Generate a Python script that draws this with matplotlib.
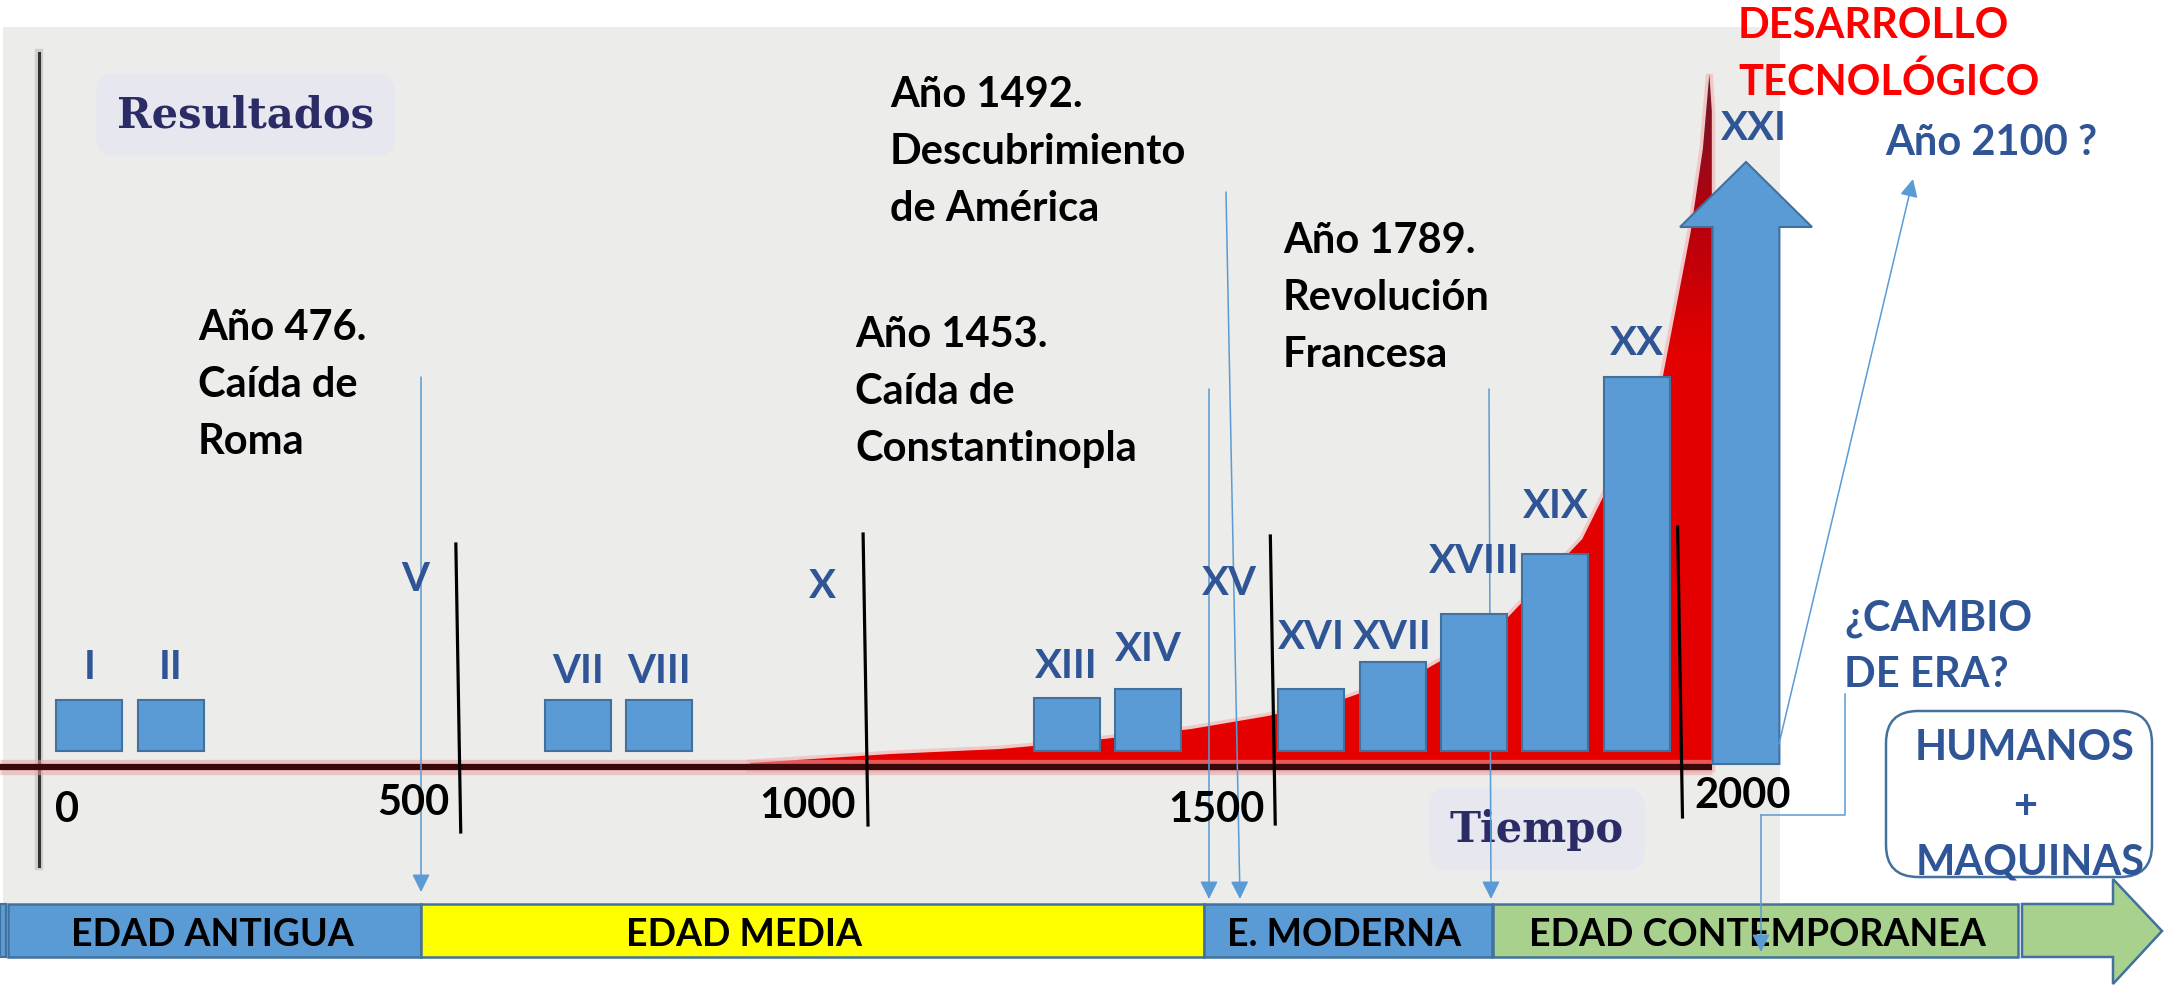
import matplotlib
matplotlib.use('Agg')
import matplotlib.pyplot as plt
import numpy as np
from matplotlib.patches import Rectangle, Polygon, FancyBboxPatch
from matplotlib.transforms import Affine2D, blended_transform_factory
from matplotlib.colors import LinearSegmentedColormap

W, H = 2164, 987

# ---- data ----
bar_labels = ['I', 'II', 'VII', 'VIII', 'XIII', 'XIV', 'XVI', 'XVII', 'XVIII', 'XIX', 'XX']
bar_centuries = [1, 2, 7, 8, 13, 14, 16, 17, 18, 19, 20]
bar_values = [51, 51, 51, 51, 53, 62, 62, 89, 137, 197, 374]

extra_labels = ['V', 'X', 'XV']
extra_centuries = [5, 10, 15]

future_label = 'XXI'
future_century = 21
future_value = 589

curve_years = [861, 1034, 1168, 1263, 1403, 1497, 1590, 1685, 1778, 1883, 1982, 2016, 2031, 2039, 2042, 2042]
curve_values = [-12, -3, 2, 9, 22, 35, 52, 79, 122, 212, 375, 519, 602, 677, 640, -18]

divider_years = [500, 1000, 1500, 2000]
tick_labels = ['0', '500', '1000', '1500', '2000']
eras = ['EDAD ANTIGUA', 'EDAD MEDIA', 'E. MODERNA', 'EDAD CONTEMPORANEA']
events = ['Año 476.\nCaída de\nRoma',
          'Año 1453.\nCaída de\nConstantinopla',
          'Año 1492.\nDescubrimiento\nde América',
          'Año 1789.\nRevolución\nFrancesa']

# ---- layout (pixel positions of the decorations) ----
label_base = {'I': 679, 'II': 679, 'V': 591, 'VII': 683, 'VIII': 683, 'X': 598,
              'XIII': 678, 'XIV': 661, 'XV': 595, 'XVI': 649, 'XVII': 649,
              'XVIII': 573, 'XIX': 518, 'XX': 355, 'XXI': 140}
event_pos = [(198, 340), (855, 347), (890, 107), (1283, 253)]
event_step = 57
tick_pos = [(67, 822), (413, 815), (808, 818), (1216, 822), (1743, 808)]
divider_top = [545, 535, 537, 528]
divider_bot = [833, 826, 825, 818]
era_spans = [(8, 421), (421, 1204), (1204, 1492), (1493, 2018)]
era_colors = ['#5B9BD5', '#FFFF00', '#5B9BD5', '#A9D18E']
era_text_x = [212, 744, 1344, 1757]
band_top, band_bot = 905, 958

BLUE = '#5B9BD5'
EDGE = '#41719C'
DARKBLUE = '#2F5597'
FONT = 'Lato'

fig = plt.figure(figsize=(W / 100, H / 100), dpi=100)
fig.patch.set_facecolor('white')
ax = fig.add_axes([0, 0, 1, 1])
ax.axis('off')

# year -> pixel: px = 48.6 + 0.8145 * year ; value -> pixel: py = 752 - value
x0 = (0 - 48.6) / 0.8145
x1 = (W - 48.6) / 0.8145
ax.set_xlim(x0, x1)
ax.set_ylim(752 - H, 752)

PX = Affine2D().scale(1 / W, -1 / H).translate(0, 1) + fig.transFigure
XPY = blended_transform_factory(ax.transData, PX)

# grey chart background
ax.add_patch(Rectangle((3, 28), 1777, 876, transform=PX, fc='#ECECEA', ec='none', zorder=0))

# vertical axis
ax.plot([39, 39], [54, 867], transform=PX, color='#9a9a9a', lw=6, alpha=0.35, zorder=1)
ax.plot([39, 39], [54, 867], transform=PX, color='#333333', lw=2.2, zorder=1)

# axis titles of the background picture
glow = dict(boxstyle='round,pad=0.5', fc='#E6E6F2', ec='none', alpha=0.7)
ax.text(117, 128, 'Resultados', transform=PX, family='DejaVu Serif', weight='bold',
        fontsize=30, color='#2B2B66', va='baseline', ha='left', bbox=glow, zorder=1)
ax.text(1450, 842, 'Tiempo', transform=PX, family='DejaVu Serif', weight='bold',
        fontsize=30, color='#2B2B66', va='baseline', ha='left', bbox=glow, zorder=1)

# red growth curve with gradient
verts = [(curve_years[0], curve_values[-1])] + list(zip(curve_years, curve_values))
poly = Polygon(verts, closed=True, fc='none', ec='#F2B0B0', lw=5, alpha=0.6, zorder=2)
ax.add_patch(poly)
cmap = LinearSegmentedColormap.from_list('red', [(0, '#E60000'), (0.6, '#E20000'),
                                                 (0.8, '#B3000E'), (1, '#6E1A2A')])
grad = np.linspace(0, 1, 256).reshape(-1, 1)
im = ax.imshow(grad, cmap=cmap, origin='lower', aspect='auto',
               extent=[min(curve_years), max(curve_years), -20, max(curve_values)], zorder=2.1)
clip = Polygon(verts, closed=True, transform=ax.transData)
im.set_clip_path(clip)
ax.set_xlim(x0, x1)
ax.set_ylim(752 - H, 752)

# horizontal axis (dark with pink halo)
ax.plot([x0, max(curve_years)], [-16, -16], color='#E9A3A3', lw=11, alpha=0.55,
        solid_capstyle='butt', zorder=2.4)
ax.plot([x0, max(curve_years)], [-16, -16], color='#3A0808', lw=4.5,
        solid_capstyle='butt', zorder=2.5)

# thin blue arrows from events to the era band
arr = dict(arrowstyle='-|>,head_length=0.6,head_width=0.3', color=BLUE, lw=1.1,
           mutation_scale=18, shrinkA=0, shrinkB=0)
for (xa, ya), (xb, yb) in [((421, 378), (421, 893)), ((1209, 390), (1209, 900)),
                           ((1226, 193), (1240, 900)), ((1489, 390), (1491, 900))]:
    ax.annotate('', xy=(xb, yb), xytext=(xa, ya), xycoords=PX, textcoords=PX,
                arrowprops=arr, zorder=3)

# century bars
bar_x = [(c - 0.5) * 100 for c in bar_centuries]
ax.bar(bar_x, bar_values, width=81, bottom=0, color=BLUE, edgecolor=EDGE,
       linewidth=1.5, zorder=4)

# XXI century arrow
arrow_shift = 34
cx = (future_century - 0.5) * 100 + arrow_shift
shaft, head, head_len, foot = 41, 81, 65, -13
ax.add_patch(Polygon([(cx - shaft, foot), (cx - shaft, future_value - head_len),
                      (cx - head, future_value - head_len), (cx, future_value),
                      (cx + head, future_value - head_len), (cx + shaft, future_value - head_len),
                      (cx + shaft, foot)], closed=True, fc=BLUE, ec=EDGE, lw=1.5, zorder=4))

# black era dividers
for yr, t, b in zip(divider_years, divider_top, divider_bot):
    ax.plot([yr, yr + 6], [t, b], transform=XPY, color='black', lw=2.3, zorder=5)

# roman numerals
for lab, c in list(zip(bar_labels, bar_centuries)) + list(zip(extra_labels, extra_centuries)):
    ax.text((c - 0.5) * 100, label_base[lab], lab, transform=XPY, ha='center', va='baseline',
            family=FONT, weight='bold', fontsize=29, color=DARKBLUE, zorder=6)
ax.text(cx + 10, label_base[future_label], future_label, transform=XPY, ha='center',
        va='baseline', family=FONT, weight='bold', fontsize=29, color=DARKBLUE, zorder=6)

# axis numbers
for lab, (x, y) in zip(tick_labels, tick_pos):
    ax.text(x, y, lab, transform=PX, ha='center', va='baseline', family=FONT,
            weight='bold', fontsize=30, color='black', zorder=6)

# event annotations
for txt, (x, y) in zip(events, event_pos):
    for i, line in enumerate(txt.split('\n')):
        ax.text(x, y + i * event_step, line, transform=PX, ha='left', va='baseline',
                family=FONT, weight='bold', fontsize=30, color='black', zorder=6)

# era band
ax.add_patch(Rectangle((0, band_top), 6, band_bot - band_top, transform=PX,
                       fc=BLUE, ec=EDGE, lw=1.5, zorder=6))
for (a, b), col, name, tx in zip(era_spans, era_colors, eras, era_text_x):
    ax.add_patch(Rectangle((a, band_top), b - a, band_bot - band_top, transform=PX,
                           fc=col, ec=EDGE, lw=1.8, zorder=6))
    ax.text(tx, 946, name, transform=PX, ha='center', va='baseline', family=FONT,
            weight='bold', fontsize=27, color='black', zorder=7)
ax.add_patch(Polygon([(2022, band_top), (2113, band_top), (2113, 880), (2162, 932),
                      (2113, 985), (2113, band_bot), (2022, band_bot)], closed=True,
                     transform=PX, fc='#A9D18E', ec=EDGE, lw=1.8, zorder=6))

# right side texts
ax.text(1738, 38, 'DESARROLLO', transform=PX, ha='left', va='baseline', family=FONT,
        weight='bold', fontsize=30, color='#FF0000', zorder=7)
ax.text(1738, 95, 'TECNOLÓGICO', transform=PX, ha='left', va='baseline', family=FONT,
        weight='bold', fontsize=30, color='#FF0000', zorder=7)
ax.text(1885, 155, 'Año 2100 ?', transform=PX, ha='left', va='baseline', family=FONT,
        weight='bold', fontsize=30, color=DARKBLUE, zorder=7)
ax.text(1844, 630, '¿CAMBIO', transform=PX, ha='left', va='baseline', family=FONT,
        weight='bold', fontsize=30, color=DARKBLUE, zorder=7)
ax.text(1844, 687, 'DE ERA?', transform=PX, ha='left', va='baseline', family=FONT,
        weight='bold', fontsize=30, color=DARKBLUE, zorder=7)

ax.annotate('', xy=(1913, 180), xytext=(1779, 745), xycoords=PX, textcoords=PX,
            arrowprops=arr, zorder=7)
ax.plot([1845, 1845, 1761], [695, 816, 816], transform=PX, color=BLUE, lw=1.1, zorder=7)
ax.annotate('', xy=(1761, 953), xytext=(1761, 816), xycoords=PX, textcoords=PX,
            arrowprops=arr, zorder=8)

# HUMANOS + MAQUINAS box
ax.add_patch(FancyBboxPatch((1886, 712), 266, 166, boxstyle='round,pad=0,rounding_size=32',
                            transform=PX, fc='white', ec=EDGE, lw=1.8, zorder=7))
ax.text(2025, 760, 'HUMANOS', transform=PX, ha='center', va='baseline', family=FONT,
        weight='bold', fontsize=30, color=DARKBLUE, zorder=8)
ax.text(2025, 819, '+', transform=PX, ha='center', va='baseline', family=FONT,
        weight='bold', fontsize=30, color=DARKBLUE, zorder=8)
ax.text(2030, 875, 'MAQUINAS', transform=PX, ha='center', va='baseline', family=FONT,
        weight='bold', fontsize=30, color=DARKBLUE, zorder=8)

fig.savefig('out.png', dpi=100, facecolor='white')
